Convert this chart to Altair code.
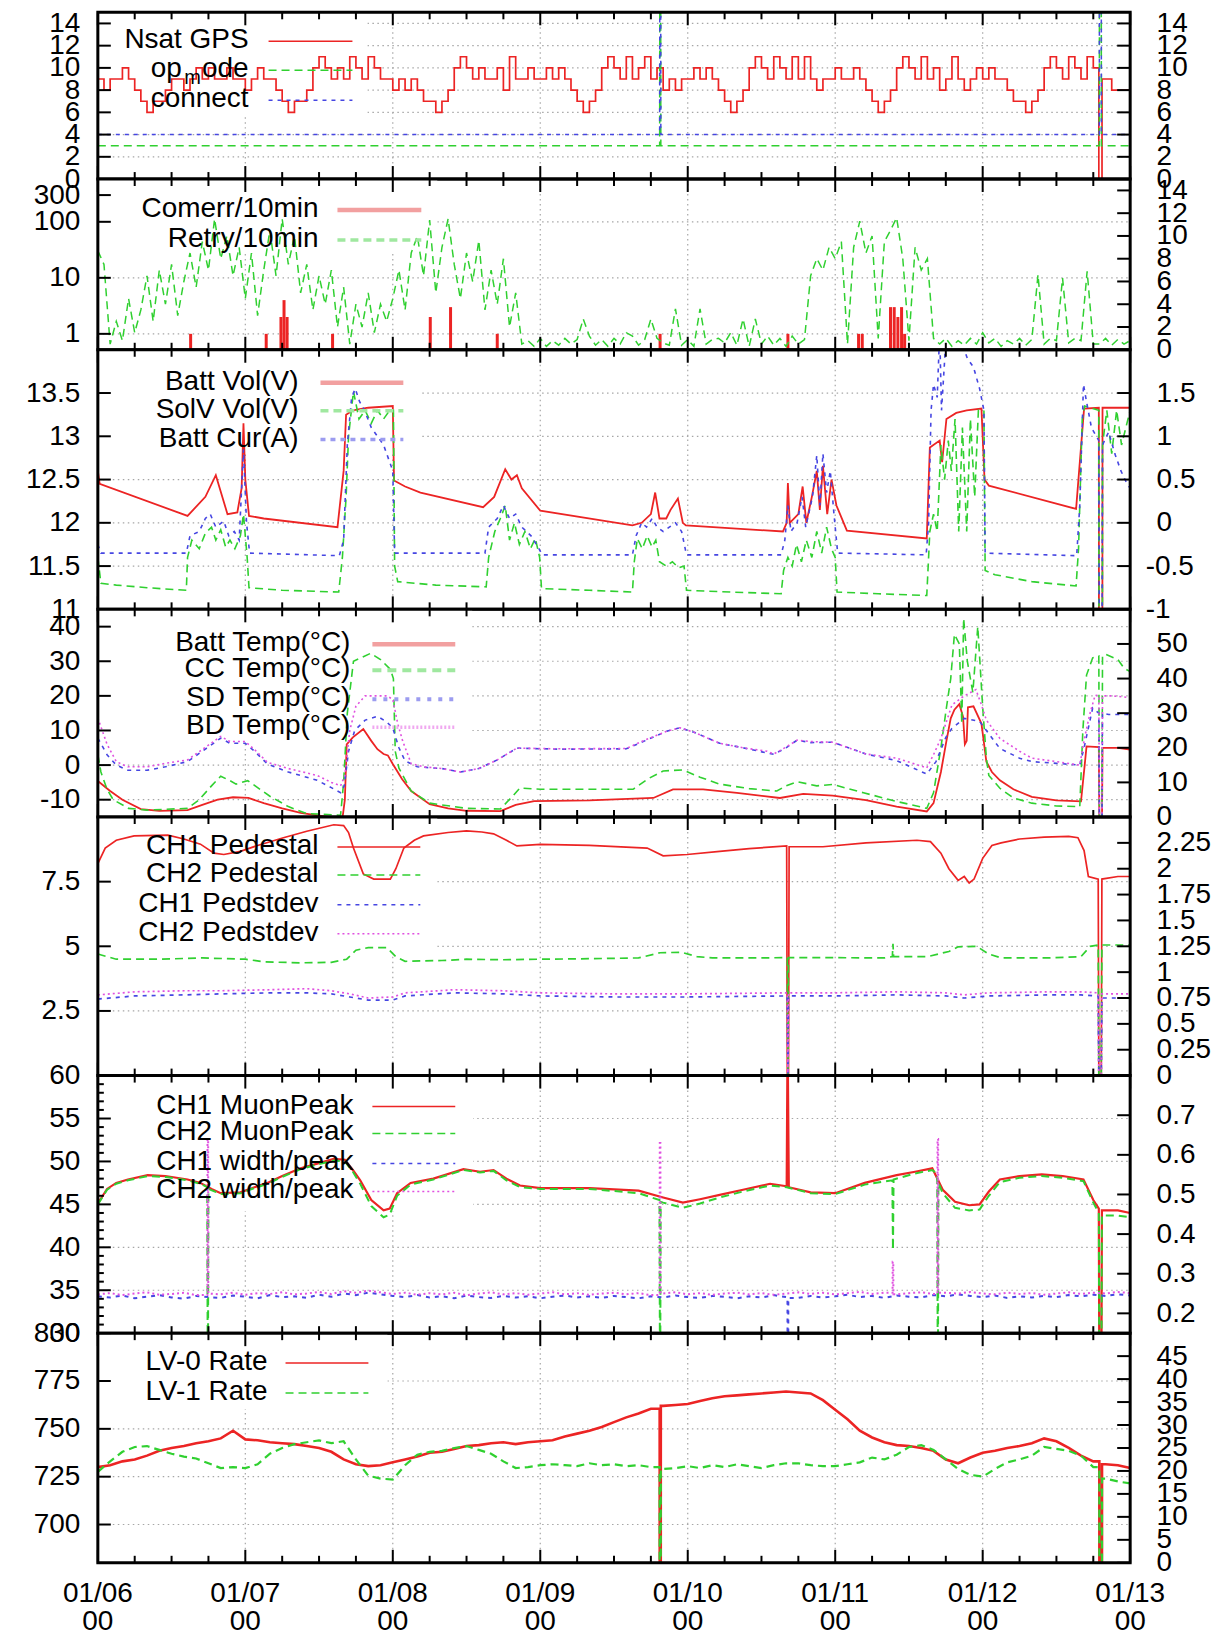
import altair as alt
import pandas as pd

# ---------------------------------------------------------------- style
W = 1034
FONT = "Liberation Sans"
FS = 28
RED, GREEN, BLUE, MAGENTA = "#ec2424", "#30d030", "#4646e2", "#e050e0"
RED_L, GREEN_L, BLUE_L, MAGENTA_L = "#f2a0a0", "#a0e8a0", "#9c9cf0", "#f0a8f0"
GRID = "#a6a6a6"
DASH, SHORT, DOT = [8, 5], [4, 5], [2, 3]

# ---------------------------------------------------------------- time axis (hours after 01/06 00:00)
DAY_HOURS = [0, 24, 48, 72, 96, 120, 144, 168]
DAY_LABELS = ["01/06", "01/07", "01/08", "01/09", "01/10", "01/11", "01/12", "01/13"]
HOUR_LABEL = "00"
MINOR_HOURS = [h for h in range(6, 168, 6) if h % 24]
HOURLY = list(range(0, 169))
TWO_HOURLY = list(range(0, 169, 2))

# ---------------------------------------------------------------- panel 1: GPS / mode
NSAT = ([9, 8, 9, 9, 10, 9, 8, 7, 6, 7, 7, 8, 9, 9, 8, 9, 10, 9, 10, 9, 9, 10, 9, 9]
        + [8, 9, 10, 9, 9, 8, 7, 6, 7, 7, 8, 10, 11, 10, 9, 10, 9, 11, 10, 9, 11, 10, 9, 9]
        + [8, 9, 8, 9, 8, 7, 7, 6, 7, 8, 10, 11, 10, 9, 10, 9, 9, 10, 8, 11, 9, 9, 10, 9]
        + [9, 10, 9, 10, 9, 8, 7, 6, 7, 8, 10, 11, 10, 9, 11, 9, 10, 11, 9, 10, 8, 9, 8, 9]
        + [9, 10, 9, 10, 9, 8, 7, 6, 7, 8, 10, 11, 10, 9, 11, 10, 9, 11, 9, 11, 9, 8, 9, 9]
        + [10, 9, 9, 10, 9, 8, 7, 6, 7, 8, 10, 11, 10, 9, 11, 9, 10, 8, 9, 11, 9, 8, 9, 10]
        + [9, 10, 9, 9, 8, 7, 7, 6, 7, 8, 10, 11, 10, 9, 11, 10, 9, 11, 10, 10, 9, 8, 8, 8, 8])
NSAT_SPIKES = [(162.9, 163.4, 0)]
OPMODE_T, OPMODE_V = [0, 168], [3, 3]
CONNECT_T, CONNECT_V = [0, 168], [4, 4]
MODE_SPIKES = [(91.45, 91.6, 20), (163.0, 163.3, 20)]

# ---------------------------------------------------------------- panel 2: communication errors
COMERR_T = [15.1, 27.4, 29.8, 30.3, 30.8, 38.2, 54.1, 57.4, 65.0, 91.5, 112.3,
            123.8, 124.4, 129.0, 129.6, 130.2, 130.8, 131.3]
COMERR_V = [1, 1, 2, 4, 2, 1, 2, 3, 1, 1, 1, 1, 1, 3, 3, 2, 3, 1]
RETRY = ([8.7, 7.5, 0.5, 2.5, 0.8, 4.5, 1.5, 3.5, 6.5, 2.5, 7.0, 4.0, 7.5, 3.0, 6.0, 8.5, 5.5, 9.5, 7.0, 11.5, 8.0, 10.0, 6.5, 9.0]
         + [4.5, 8.5, 3.0, 7.0, 10.5, 6.5, 11.5, 7.5, 10.0, 5.0, 7.5, 3.5, 6.5, 4.0, 7.0, 2.0, 5.5, 0.5, 4.0, 2.0, 5.0, 1.5, 4.0, 2.5]
         + [4.5, 7.0, 3.5, 8.5, 10.0, 6.5, 11.4, 5.0, 9.0, 11.5, 7.5, 4.5, 8.5, 6.0, 9.6, 3.5, 7.0, 4.0, 8.0, 2.0, 5.0, 0.5, 0.8, 0.3]
         + [1.0, 0.3, 0.8, 0.4, 1.0, 0.5, 0.9, 2.7, 1.2, 0.4, 0.9, 0.3, 1.0, 0.5, 1.5, 1.2, 0.4, 0.9, 2.7, 1.0, 0.6, 0.4, 3.6, 0.4]
         + [0.9, 0.3, 3.6, 0.5, 0.9, 1.0, 0.6, 1.5, 0.4, 2.7, 0.3, 2.7, 0.5, 1.2, 0.4, 1.0, 0.3, 1.2, 0.5, 0.9, 6.5, 8.0, 7.0, 9.0]
         + [8.0, 9.5, 0.5, 9.0, 11.3, 8.5, 10.0, 1.0, 9.5, 10.5, 11.6, 8.0, 0.8, 9.0, 7.0, 8.0, 1.0, 0.5, 1.0, 0.3, 0.8, 0.4, 1.0, 0.5]
         + [1.5, 0.6, 1.0, 0.3, 0.8, 0.5, 1.0, 0.4, 0.9, 6.6, 0.5, 1.0, 0.8, 6.3, 0.6, 1.0, 0.8, 6.9, 0.5, 0.5, 1.0, 0.4, 0.9, 0.5, 0.8])

# ---------------------------------------------------------------- panel 3: power (V on left, A on right)
BATT_VOL = [(0, 12.6), (0.3, 12.45), (14.6, 12.08), (17.5, 12.3), (19.2, 12.55), (21.1, 12.1), (22.7, 12.12),
            (23.4, 12.4), (23.7, 13.15), (24.0, 12.5), (24.6, 12.08), (27, 12.05), (39, 11.95), (40.0, 12.6),
            (40.4, 13.25), (41.5, 13.3), (44, 13.33), (48.0, 13.35), (48.2, 12.49), (50, 12.42), (52.5, 12.35),
            (62.7, 12.18), (64.5, 12.3), (66.3, 12.62), (67.3, 12.5), (68.2, 12.55), (69, 12.4), (72, 12.14),
            (87, 11.97), (88.5, 12.0), (90.0, 12.1), (90.7, 12.35), (91.4, 12.05), (92.5, 12.05), (93.2, 12.15),
            (94.4, 12.28), (95.2, 12.0), (95.7, 11.97), (111.5, 11.9), (112.1, 12.0), (112.3, 12.46), (112.6, 12.0),
            (114.0, 12.1), (114.7, 12.42), (115.3, 12.0), (116.2, 12.3), (117, 12.6), (117.5, 12.15), (118, 12.66),
            (118.7, 12.1), (119.4, 12.5), (120.2, 12.2), (121.9, 11.91), (134.9, 11.82), (135.4, 12.87),
            (137, 12.95), (137.4, 12.7), (138.1, 13.2), (139.7, 13.27), (141.4, 13.3), (143.8, 13.32),
            (144.3, 12.5), (145, 12.43), (159.2, 12.16), (160.5, 13.32), (162.9, 13.33), (163.0, 0), (163.4, 0),
            (163.5, 13.33), (168, 13.33)]
SOLV_VOL = [(0, 11.6), (0.5, 11.3), (3, 11.28), (8, 11.25), (14.4, 11.22), (14.6, 11.6), (15.3, 11.8), (16.5, 11.7),
            (17.5, 11.88), (18.5, 11.95), (19.2, 11.8), (20, 11.92), (20.8, 11.72), (21.5, 11.8), (22.3, 11.7),
            (23.2, 11.85), (23.7, 12.1), (24.3, 11.6), (24.6, 11.25), (30, 11.22), (39.2, 11.2), (39.8, 11.6),
            (40.4, 12.3), (40.8, 13.0), (41.6, 13.52), (42.5, 13.2), (43.5, 13.3), (44.5, 13.15), (45.5, 13.3),
            (46.5, 13.2), (47.5, 13.3), (48.1, 13.3), (48.3, 11.5), (48.8, 11.32), (55, 11.28), (63.2, 11.26),
            (63.6, 11.6), (64.6, 11.9), (65.5, 12.05), (66.3, 12.2), (67, 11.8), (67.8, 12.0), (68.6, 11.75),
            (69.5, 11.9), (70.4, 11.7), (71.2, 11.82), (71.9, 11.6), (72.2, 11.24), (80, 11.22), (87.0, 11.2),
            (87.3, 11.55), (87.8, 11.82), (88.6, 11.7), (89.4, 11.85), (90.2, 11.72), (90.8, 11.8), (91.4, 11.55),
            (92.5, 11.5), (93.5, 11.55), (94.5, 11.48), (95.4, 11.5), (95.8, 11.22), (103, 11.2), (111.2, 11.18),
            (111.6, 11.45), (112.3, 11.6), (113.0, 11.5), (113.7, 11.75), (114.5, 11.55), (115.3, 11.8),
            (116.2, 11.6), (117, 11.9), (117.8, 11.65), (118.6, 11.95), (119.4, 11.7), (120.0, 11.6),
            (120.3, 11.2), (127, 11.18), (134.9, 11.16), (135.4, 11.9), (136, 12.1), (136.6, 11.9), (137.2, 12.9),
            (137.8, 12.5), (138.4, 12.95), (138.9, 12.6), (139.5, 13.2), (140.1, 11.9), (140.7, 13.1),
            (141.4, 11.9), (142.0, 13.2), (142.7, 12.3), (143.3, 13.3), (144.2, 13.3), (144.4, 11.45),
            (146, 11.4), (152, 11.32), (159.2, 11.27), (159.6, 11.7), (160.2, 13.2), (160.6, 13.35),
            (162.9, 13.3), (163.0, 0), (163.4, 0), (163.5, 12.9), (164.2, 13.3), (165, 12.8), (165.8, 13.3),
            (166.6, 12.9), (168, 13.3)]
BATT_CUR = [(0, -0.25), (0.5, -0.35), (14.4, -0.35), (15, -0.15), (16.5, -0.1), (17.5, 0.05), (18.3, 0.1),
            (19.2, -0.05), (20.5, 0.02), (21.3, -0.15), (22.2, -0.1), (23.0, -0.2), (23.7, 0.85), (24.2, 0.0),
            (24.7, -0.35), (39.3, -0.38), (40, -0.2), (40.6, 0.9), (41.3, 1.45), (41.9, 1.55), (42.6, 1.4),
            (43.4, 1.3), (44.5, 1.1), (45.5, 1.0), (46.5, 0.9), (47.5, 0.7), (48.0, 0.6), (48.3, -0.35),
            (63.0, -0.35), (63.6, -0.05), (65.0, 0.05), (66.0, 0.2), (67.0, 0.05), (68.0, 0.1), (69.0, -0.05),
            (70.5, -0.15), (71.8, -0.3), (72.3, -0.37), (87.0, -0.37), (87.6, -0.15), (88.5, 0.0), (89.3, -0.05),
            (90.2, 0.05), (91.0, -0.05), (92.0, -0.1), (93.0, -0.05), (94.0, 0.0), (95.0, -0.1), (95.8, -0.37),
            (111.2, -0.37), (111.8, -0.2), (112.3, 0.2), (112.8, -0.1), (113.8, 0.0), (114.6, 0.3),
            (115.2, -0.05), (116.3, 0.3), (117.0, 0.78), (117.5, 0.2), (118.0, 0.8), (118.6, 0.35), (119.2, 0.6),
            (119.8, 0.1), (120.4, -0.35), (134.8, -0.37), (135.2, 0.0), (135.6, 1.3), (136.0, 1.6),
            (136.6, 1.45), (137.0, 2.2), (137.3, 1.3), (138.0, 2.1), (139.5, 2.2), (140.5, 2.1), (141.5, 1.9),
            (142.5, 1.8), (143.5, 1.55), (144.2, 1.3), (144.4, -0.35), (159.3, -0.38), (159.8, 0.2),
            (160.4, 1.6), (160.9, 1.4), (161.7, 1.1), (162.5, 1.0), (162.9, 0.95), (163.0, -2), (163.4, -2),
            (163.5, 0.9), (164.5, 1.05), (165.5, 0.8), (166.5, 0.6), (167.5, 0.45), (168, 0.4)]

# ---------------------------------------------------------------- panel 4: temperatures (degC)
BATT_TEMP = [(0, -4.6), (2, -7.5), (4, -10), (7, -12.7), (10, -13.2), (14.6, -13), (17, -11.5), (19.5, -10),
             (22, -9.3), (24.5, -9.5), (27, -11), (30, -12.5), (33, -13.8), (35.7, -14.5), (39.8, -15.5),
             (40.2, -10), (40.5, 6), (41.5, 8), (43.2, 10.4), (44.5, 7), (45.5, 4.6), (46.5, 3.2), (47.2, 2.8),
             (48, 0.3), (49.5, -4), (51, -7.5), (54, -11.3), (57, -12.5), (60, -13.2), (65.5, -13.3),
             (68, -11.5), (71, -10.4), (80, -10.2), (90.4, -9.5), (93.6, -7), (98.5, -7), (104, -8), (111, -9.5),
             (114.8, -8.3), (119.6, -8.8), (125, -10.1), (130, -12), (134.9, -13.4), (136, -11), (137.2, -2),
             (138.1, 7), (138.8, 13.5), (139.4, 16), (140.2, 17.6), (140.8, 14), (141.1, 6), (141.4, 7),
             (141.6, 16.7), (142.5, 17), (143.8, 12), (144.6, 1), (145.5, -2), (146.8, -4.4), (149, -7),
             (152, -9.2), (156, -10.2), (160, -10.5), (160.6, 0), (160.9, 5.4), (162.9, 5.2), (163.0, -20),
             (163.4, -20), (163.5, 5), (166, 5), (168, 4.5)]
CC_TEMP = [(0, 3), (0.5, -2), (1.5, -7), (2.5, -10), (5, -12.5), (8, -13), (14.6, -12.5), (16.5, -10), (18.5, -6),
           (20, -3.2), (21.5, -4.5), (22.5, -5.5), (24.4, -4.5), (26, -6.5), (28, -9), (31, -12), (34, -14),
           (39.5, -14.5), (40.0, -5), (40.6, 15), (41.6, 30), (44.4, 32.3), (46, 30.5), (47.6, 27.7), (48.1, 25),
           (48.4, 4), (49, -0.9), (51, -7.5), (54, -11), (60, -12.5), (65.5, -12.7), (67.5, -9), (68.7, -6.6),
           (72, -7), (87.1, -7), (89.5, -4), (92, -1.7), (95.2, -1.4), (98, -3.5), (101.2, -5.5), (106, -6.8),
           (110.5, -7.5), (112, -6), (113.8, -4.8), (117, -6), (119.6, -5.6), (124.6, -8), (130, -10.5),
           (134.9, -12.5), (136, -8), (137.2, 5), (138.1, 16.6), (138.8, 25), (139.4, 37.8), (140.2, 35),
           (140.6, 12), (140.9, 42.4), (141.5, 30), (142.4, 21), (143.2, 40), (144, 16.7), (144.6, 2), (145, -3),
           (146.8, -6.7), (149, -9.5), (152, -11), (156, -11.8), (159.8, -12), (160.3, 10), (160.9, 26),
           (161.9, 31), (162.9, 31.5), (163.0, -20), (163.4, -20), (163.5, 31.5), (164, 32), (166, 30.5),
           (167, 28), (168, 27)]
SD_TEMP = [(0, 7.8), (1.5, 3), (3, 0), (4.9, -1.5), (8, -1.5), (11, -0.5), (14.6, 1), (17, 4), (20, 7.8),
           (21.5, 6.3), (24, 6.3), (25.5, 4), (27.6, 0.3), (31, -2), (35.7, -4.4), (38, -6.5), (39.5, -8),
           (40.1, -6), (40.8, 4), (41.8, 10), (43.5, 13), (45.5, 14.1), (47, 12.5), (48, 10.7), (49, 5),
           (50, 1.2), (52, -0.5), (56, -1), (59, -2), (62, -1), (65, 1.5), (68.2, 4.9), (75, 4.6), (86, 4.7),
           (89, 7), (92.6, 9.8), (94.7, 10.8), (97, 9.5), (101.2, 6.3), (105, 5), (108.9, 3.5), (110, 3.1),
           (112, 5), (113.8, 7.2), (116, 6.5), (119.6, 6.6), (125, 3.2), (130, 1.3), (134.9, -2.6), (136.4, 1),
           (138, 8), (139, 10.6), (141, 13.5), (143.5, 12.6), (144.6, 10), (146.8, 4.8), (150, 2), (152, 1),
           (156, 0.5), (159.8, 0), (160.5, 5), (161.9, 16.5), (162.9, 15), (163.0, -20), (163.4, -20),
           (163.5, 15), (164.5, 14.6), (168, 14.6)]
BD_TEMP = [(0, 13.6), (1.5, 6), (3, 1), (4.9, -0.5), (8, -0.5), (11, 0.5), (14.6, 1.5), (17, 4.5), (20, 8.3),
           (21.5, 6.8), (24, 6.8), (25.5, 4.5), (27.6, 0.8), (31, -1), (35.7, -3), (38, -5), (39.5, -6),
           (40.2, -3), (41, 10), (42, 17), (43.5, 20), (47, 20), (48, 19), (48.8, 12), (49.6, 7), (51, 0.4),
           (53, -0.5), (56, -1), (59, -2), (62, -1), (65, 1.5), (68.2, 4.9), (75, 4.7), (86, 4.8), (89, 7.2),
           (92.6, 9.8), (94.7, 10.8), (97, 9.5), (101.2, 6.3), (105, 5), (108.9, 4), (110, 3.2), (112, 5.2),
           (113.8, 7.2), (116, 6.8), (119.6, 6.6), (125, 3.2), (130, 2), (134.9, -0.8), (136, 3), (137.2, 7.7),
           (139, 17.4), (141, 20), (142.9, 21.8), (143.8, 17.4), (144.6, 13), (146.8, 7.7), (150, 4), (152, 2),
           (156, 1), (159.8, 0), (160.6, 8), (161.4, 14.5), (162.3, 20.2), (162.9, 20), (163.0, -20),
           (163.4, -20), (163.5, 20), (165, 20), (168, 19.5)]

# ---------------------------------------------------------------- panel 5: pedestals
CH1_PED = [(0, 8.2), (1.2, 8.8), (3, 9.1), (5.9, 9.27), (11.4, 9.3), (14, 9.15), (16.7, 8.95), (18.9, 8.6),
           (20.5, 8.55), (23.2, 8.67), (26, 8.9), (30.2, 9.2), (34, 9.45), (38.4, 9.7), (40, 9.67), (40.8, 9.4),
           (41.6, 8.8), (43.2, 7.8), (44.9, 7.6), (47.6, 7.6), (48.5, 8.0), (49.8, 8.8), (51.5, 9.1), (53, 9.27),
           (57, 9.4), (60, 9.46), (62.5, 9.42), (64.4, 9.35), (66.5, 9.1), (68.2, 8.88), (72, 8.94), (80, 8.9),
           (89.4, 8.8), (92, 8.5), (95.9, 8.55), (101.2, 8.67), (106, 8.78), (112.1, 8.88), (112.2, 0),
           (112.4, 0), (112.5, 8.85), (118, 8.85), (125, 9.0), (133.3, 9.1), (135.5, 9.05), (137.2, 8.6),
           (138.5, 8.0), (140, 7.55), (141, 7.7), (141.8, 7.45), (142.6, 7.6), (144, 8.4), (145.5, 8.9),
           (147, 9.0), (150, 9.15), (154, 9.22), (158, 9.25), (159.5, 9.2), (160.5, 8.7), (161.2, 7.7),
           (162.8, 7.6), (162.9, 0), (163.3, 0), (163.4, 7.6), (166, 7.7), (168, 7.7)]
CH2_PED = [(0, 4.7), (3, 4.5), (10, 4.5), (17, 4.55), (24, 4.5), (27, 4.4), (33, 4.36), (38, 4.38), (40.5, 4.5),
           (42, 4.85), (44, 4.95), (47, 4.95), (48.5, 4.6), (50, 4.42), (56, 4.45), (60, 4.5), (66, 4.48),
           (72, 4.5), (80, 4.52), (88, 4.55), (91.5, 4.75), (95, 4.77), (97.5, 4.6), (100, 4.55), (106, 4.55),
           (112.2, 4.56), (112.3, 0), (112.4, 4.56), (120, 4.56), (128, 4.55), (129.3, 4.6), (129.4, 5.1),
           (129.5, 4.6), (135, 4.6), (138.5, 4.8), (140, 4.98), (143, 5.0), (145, 4.7), (147, 4.55),
           (155, 4.55), (160, 4.6), (161.5, 5.0), (162.8, 5.05), (162.9, 0), (163.3, 0), (163.4, 5.05),
           (168, 5.05)]
CH1_PEDSTD = [(0, 0.74), (6, 0.77), (14, 0.78), (20, 0.79), (28, 0.8), (34, 0.8), (38, 0.79), (41, 0.76),
              (44, 0.73), (48, 0.73), (50, 0.77), (58, 0.8), (66, 0.79), (72, 0.77), (84, 0.76), (96, 0.76),
              (112.2, 0.77), (112.3, 0), (112.4, 0.77), (120, 0.77), (130, 0.78), (138, 0.77), (141, 0.75),
              (145, 0.77), (155, 0.78), (160, 0.78), (162.8, 0.77), (162.9, 0), (163.3, 0), (163.4, 0.75),
              (168, 0.75)]
CH2_PEDSTD = [(0, 0.78), (6, 0.81), (14, 0.82), (20, 0.82), (28, 0.83), (34, 0.84), (38, 0.82), (41, 0.79),
              (44, 0.75), (48, 0.76), (50, 0.8), (58, 0.83), (66, 0.82), (72, 0.8), (84, 0.79), (96, 0.79),
              (112.2, 0.8), (112.3, 0), (112.4, 0.8), (120, 0.8), (130, 0.81), (138, 0.8), (141, 0.78),
              (145, 0.8), (155, 0.81), (160, 0.81), (162.8, 0.8), (162.9, 0), (163.3, 0), (163.4, 0.79),
              (168, 0.79)]

# ---------------------------------------------------------------- panel 6: muon peaks
CH1_MUON = [(0, 45.1), (1.5, 46.8), (3, 47.5), (4.9, 47.9), (8.1, 48.4), (11, 48.3), (14.6, 47.9), (16.7, 47.5),
            (18.5, 46.8), (20, 46.3), (23.2, 46.4), (25.5, 47), (27.6, 47.5), (30, 48.3), (33, 49.2), (36, 49.8),
            (38.4, 50.3), (40.2, 50.2), (41.5, 49), (42.7, 47.8), (44.5, 45.5), (46.5, 44.3), (47.5, 44.5),
            (48.7, 46.3), (50.9, 47.5), (54.6, 48), (59.5, 49.1), (62.2, 48.8), (64.4, 49), (66.5, 48),
            (68.7, 47.2), (72, 46.9), (80, 46.9), (88, 46.6), (92, 45.8), (95.2, 45.2), (98, 45.6), (101.2, 46.1),
            (105, 46.7), (109.4, 47.4), (112.1, 47.1), (112.25, 65), (112.45, 47), (116, 46.4), (120, 46.3),
            (124.8, 47.5), (130, 48.4), (133, 48.8), (135.8, 49.2), (137.5, 46.7), (139.5, 45.3), (141.8, 44.9),
            (143.5, 45), (145, 46.5), (146.8, 47.9), (150, 48.3), (153.6, 48.5), (157, 48.3), (160.4, 47.9),
            (162, 45.5), (162.9, 44.5), (163.0, 20), (163.3, 20), (163.4, 44.3), (166, 44.3), (168, 44)]
CH2_MUON = [(0, 45), (1.5, 46.7), (3, 47.4), (4.9, 47.8), (8.1, 48.3), (11, 48.2), (14.6, 47.8), (16.7, 47.4),
            (17.8, 47.0), (17.9, 20), (18.0, 46.8), (20, 46.2), (23.2, 46.3), (25.5, 46.9), (27.6, 47.4),
            (30, 48.2), (33, 49.1), (36, 49.7), (38.4, 50.1), (40.2, 50.0), (41.5, 48.8), (42.7, 47.4),
            (44.5, 44.8), (46.5, 43.5), (47.5, 43.8), (48.7, 46.0), (50.9, 47.3), (54.6, 47.9), (59.5, 49.0),
            (62.2, 48.7), (64.4, 48.9), (66.5, 47.8), (68.7, 47.0), (72, 46.8), (80, 46.8), (88, 46.3),
            (91.4, 45.5), (91.5, 20), (91.6, 45.3), (92, 45.2), (95.2, 44.6), (98, 45.1), (101.2, 45.8),
            (105, 46.5), (109.4, 47.2), (112.1, 47.0), (116, 46.3), (120, 46.2), (124.8, 47.3), (129.3, 47.8),
            (129.4, 39.7), (129.5, 47.9), (133, 48.6), (135.8, 49.0), (136.6, 48.5), (136.7, 20), (136.8, 47.5),
            (137.5, 46.3), (139.5, 44.6), (141.8, 44.3), (143.5, 44.4), (145, 46.0), (146.8, 47.6), (150, 48.1),
            (153.6, 48.3), (157, 48.1), (160.4, 47.7), (162, 45.2), (162.9, 44.0), (163.0, 20), (163.3, 20),
            (163.4, 43.7), (166, 43.7), (168, 43.5)]
CH1_WP = [0.243, 0.240, 0.245, 0.238, 0.242, 0.246, 0.240, 0.237, 0.244, 0.241, 0.239, 0.245,
          0.242, 0.238, 0.246, 0.241, 0.243, 0.239, 0.247, 0.242, 0.250, 0.246, 0.252, 0.248,
          0.244, 0.241, 0.246, 0.240, 0.243, 0.238, 0.245, 0.241, 0.239, 0.244, 0.240, 0.243,
          0.238, 0.242, 0.245, 0.240, 0.243, 0.239, 0.244, 0.241, 0.238, 0.243, 0.240, 0.245,
          0.241, 0.239, 0.244, 0.242, 0.238, 0.243, 0.240, 0.246, 0.241, 0.239, 0.244, 0.240,
          0.243, 0.247, 0.241, 0.244, 0.239, 0.245, 0.242, 0.240, 0.246, 0.243, 0.248, 0.244,
          0.241, 0.245, 0.239, 0.243, 0.240, 0.244, 0.241, 0.246, 0.243, 0.247, 0.244, 0.248, 0.245]
CH2_WP = [0.248, 0.251, 0.246, 0.250, 0.253, 0.247, 0.249, 0.252, 0.246, 0.250, 0.248, 0.252,
          0.247, 0.251, 0.249, 0.253, 0.248, 0.250, 0.254, 0.249, 0.256, 0.252, 0.257, 0.253,
          0.249, 0.252, 0.247, 0.251, 0.248, 0.252, 0.246, 0.250, 0.253, 0.248, 0.251, 0.247,
          0.250, 0.253, 0.248, 0.251, 0.247, 0.250, 0.252, 0.248, 0.251, 0.246, 0.250, 0.253,
          0.248, 0.251, 0.247, 0.250, 0.252, 0.248, 0.251, 0.247, 0.250, 0.253, 0.249, 0.252,
          0.248, 0.251, 0.254, 0.249, 0.252, 0.248, 0.251, 0.253, 0.249, 0.252, 0.250, 0.254,
          0.250, 0.248, 0.252, 0.249, 0.251, 0.247, 0.250, 0.253, 0.249, 0.252, 0.250, 0.254, 0.251]
CH1_WP_SPIKES = [(112.25, 112.35, 0.0)]
CH2_WP_SPIKES = [(17.85, 17.95, 0.64), (91.45, 91.55, 0.63), (129.35, 129.45, 0.33), (136.65, 136.75, 0.64)]

# ---------------------------------------------------------------- panel 7: trigger rates
LV0 = [730, 731, 733, 734, 736, 738.5, 740, 741, 742.5, 743.5,
       745, 749, 744.5, 744, 743, 742.5, 742, 741, 740, 738,
       734, 731.5, 730.5, 731, 732.5, 734, 735.5, 737.5, 738, 739.5,
       741, 741.5, 742.5, 743, 742, 743, 743.5, 744, 746, 747.5,
       749, 751, 753.5, 756, 758, 760.5, 762, 762.5, 763, 764.5,
       766, 767, 767.5, 768, 768.5, 769, 769.5, 769, 768.5, 765,
       760, 755, 749, 745.5, 743, 741.5, 741, 740, 738.5, 734,
       732, 735, 737.5, 738.5, 740, 741, 742.5, 745, 743.5, 740,
       736, 733, 731.5, 731, 729.5]
LV1 = [727.5, 733, 738, 740.5, 741, 739, 737, 735.5, 734.5, 732,
       729.5, 730, 729.5, 731.5, 737, 740, 742, 743, 744, 742.5,
       743.5, 734, 725.5, 724, 723.5, 731, 736.5, 738, 738.5, 740,
       741, 739, 737, 733, 729.5, 730, 731, 731.5, 731, 730.5,
       732, 731, 731.5, 730.5, 731, 730, 729, 729.5, 730.5, 729.5,
       731, 730, 731.5, 730.5, 729.5, 731, 732, 732, 731, 730.5,
       730.5, 731.5, 732.5, 735, 734, 736.5, 740.5, 741.5, 739, 734,
       729, 726, 725, 729, 732.5, 734, 736, 740.5, 739.5, 738.5,
       736, 730, 724, 722.5, 721.5]
RATE_SPIKES = [(91.45, 91.6, 600), (163.0, 163.4, 600)]

# ---------------------------------------------------------------- helpers
ONE = pd.DataFrame({"k": [0]})
X = alt.X("t:Q", scale=alt.Scale(domain=[0, 168], nice=False, zero=False), axis=None)


def ys(domain, kind="linear"):
    return alt.Scale(domain=domain, type=kind, nice=False, zero=False)


def pts(pairs):
    return pd.DataFrame(pairs, columns=["t", "v"])


def spiked(t, v, spikes=()):
    """Series with short dropouts/spikes inserted at the given times."""
    p = list(zip(t, v))
    for t0, t1, level in spikes:
        before = [q for q in p if q[0] < t0][-1][1]
        after = [q for q in p if q[0] > t1][0][1]
        p = [q for q in p if not (t0 <= q[0] <= t1)]
        p += [(t0 - 0.02, before), (t0, level), (t1, level), (t1 + 0.02, after)]
        p.sort()
    return pts(p)


def line(df, domain, color, dash=None, width=1.5, kind="linear", interp="linear"):
    mk = dict(color=color, strokeWidth=width, clip=True, interpolate=interp)
    if dash:
        mk["strokeDash"] = dash
    return alt.Chart(df).mark_line(**mk).encode(
        x=X, y=alt.Y("v:Q", scale=ys(domain, kind), axis=None))


def side_axis(orient, values, pad):
    return alt.Axis(orient=orient, values=values, labelExpr="toString(datum.value)",
                    ticks=False, domain=False, grid=False, title=None,
                    labelFont=FONT, labelFontSize=FS, labelColor="black",
                    labelPadding=pad, labelOverlap=False, labelFlush=False,
                    labelAlign="right" if orient == "left" else "left", labelBaseline="middle")


# negative labels on the right-hand axes start a little further left
RIGHT_PAD = {"condition": {"test": "datum.value < 0", "value": 15}, "value": 26}


def vals(values):
    return pd.DataFrame({"v": values})


def text(s, x, y, align="right", size=FS):
    return alt.Chart(ONE).mark_text(text=s, align=align, baseline="middle", font=FONT,
                                    fontSize=size, color="black").encode(x=alt.value(x), y=alt.value(y))


def panel(h, left, right, series, legend, extra=()):
    lkind = left.get("kind", "linear")
    gridmk = dict(color=GRID, strokeDash=[1.5, 3.5], strokeWidth=1.2)
    tick = dict(color="black", strokeWidth=2)
    layers = [
        alt.Chart(pd.DataFrame({"t": DAY_HOURS[1:-1]})).mark_rule(**gridmk).encode(
            x=X, y=alt.value(0), y2=alt.value(h)),
        alt.Chart(vals(left["grid"])).mark_rule(**gridmk).encode(
            x=alt.value(0), x2=alt.value(W),
            y=alt.Y("v:Q", scale=ys(left["domain"], lkind), axis=side_axis("left", left["labels"], 18))),
    ]
    box_r, box_b = legend["box"]
    layers.append(alt.Chart(ONE).mark_rect(color="white").encode(
        x=alt.value(0), x2=alt.value(box_r), y=alt.value(0), y2=alt.value(box_b)))
    layers += series
    layers.append(alt.Chart(vals(left["labels"])).mark_rule(**tick).encode(
        x=alt.value(0), x2=alt.value(13), y=alt.Y("v:Q", scale=ys(left["domain"], lkind), axis=None)))
    if "minor" in left:
        layers.append(alt.Chart(vals(left["minor"])).mark_rule(**tick).encode(
            x=alt.value(0), x2=alt.value(6), y=alt.Y("v:Q", scale=ys(left["domain"], lkind), axis=None)))
    layers.append(alt.Chart(vals(right["labels"])).mark_rule(**tick).encode(
        x=alt.value(W - 13), x2=alt.value(W),
        y=alt.Y("v:Q", scale=ys(right["domain"]), axis=side_axis("right", right["labels"], RIGHT_PAD))))
    for hrs, ln in ((DAY_HOURS, 13), (MINOR_HOURS, 7)):
        d = pd.DataFrame({"t": hrs})
        layers.append(alt.Chart(d).mark_rule(**tick).encode(x=X, y=alt.value(0), y2=alt.value(ln)))
        layers.append(alt.Chart(d).mark_rule(**tick).encode(x=X, y=alt.value(h - ln), y2=alt.value(h)))
    layers.append(alt.Chart(ONE).mark_rect(fill="white", fillOpacity=0, stroke="black", strokeWidth=3).encode(
        x=alt.value(0), x2=alt.value(W), y=alt.value(0), y2=alt.value(h)))
    tr = legend["text_right"]
    s0, s1 = legend["sample"]
    for label, y, color, dash, width in legend["rows"]:
        if label:
            layers.append(text(label, tr, y))
        mk = dict(color=color, strokeWidth=width)
        if dash:
            mk["strokeDash"] = dash
        layers.append(alt.Chart(ONE).mark_rule(**mk).encode(
            x=alt.value(s0), x2=alt.value(s1), y=alt.value(y + 1)))
    layers += list(extra)
    return alt.layer(*layers).resolve_scale(y="independent").properties(width=W, height=h)


# ---------------------------------------------------------------- panels
H1, H2, H3, H4, H5, H6, H7 = 167, 171, 260, 208, 259, 258, 230
EVEN14 = [0, 2, 4, 6, 8, 10, 12, 14]

p1 = panel(
    H1,
    dict(domain=[0, 15], labels=EVEN14, grid=EVEN14[1:]),
    dict(domain=[0, 15], labels=EVEN14),
    [line(spiked(HOURLY, NSAT, NSAT_SPIKES), [0, 15], RED, interp="step-after", width=1.7),
     line(spiked(OPMODE_T, OPMODE_V, MODE_SPIKES), [0, 15], GREEN, DASH),
     line(spiked(CONNECT_T, CONNECT_V, MODE_SPIKES), [0, 15], BLUE, SHORT)],
    dict(text_right=151, sample=(171, 255), box=(270, 102),
         rows=[("Nsat GPS", 28, RED, None, 1.5), (None, 57, GREEN, DASH, 1.5),
               ("connect", 87, BLUE, SHORT, 1.5)]),
    extra=[text("op", 84, 57), text("m", 95, 66, align="center", size=20), text("ode", 151, 57),
           alt.Chart(ONE).mark_rule(color="white", strokeWidth=1).encode(
               x=alt.value(-96.5), x2=alt.value(W + 97.5), y=alt.value(-9.5))],
)

p2 = panel(
    H2,
    dict(domain=[0.52, 580], kind="log", labels=[1, 10, 100, 300], grid=[1, 10, 100]),
    dict(domain=[0, 15], labels=EVEN14),
    [alt.Chart(pd.DataFrame({"t": COMERR_T, "v": COMERR_V})).mark_rule(color=RED, strokeWidth=3).encode(
        x=X, y=alt.Y("v:Q", scale=ys([0.52, 580], "log"), axis=None), y2=alt.value(H2)),
     line(pd.DataFrame({"t": HOURLY, "v": RETRY}), [0, 15], GREEN, DASH, 1.5)],
    dict(text_right=221, sample=(240, 324), box=(340, 75),
         rows=[("Comerr/10min", 30, RED_L, None, 4.5), ("Retry/10min", 60, GREEN_L, DASH, 3.5)]),
)

p3 = panel(
    H3,
    dict(domain=[11, 14], labels=[11, 11.5, 12, 12.5, 13, 13.5], grid=[11.5, 12, 12.5, 13, 13.5]),
    dict(domain=[-1, 2], labels=[-1, -0.5, 0, 0.5, 1, 1.5]),
    [line(pts(BATT_VOL), [11, 14], RED, None, 1.8),
     line(pts(SOLV_VOL), [11, 14], GREEN, DASH, 1.6),
     line(pts(BATT_CUR), [-1, 2], BLUE, SHORT, 1.6)],
    dict(text_right=201, sample=(223, 306), box=(323, 104),
         rows=[("Batt Vol(V)", 32, RED_L, None, 4.5), ("SolV Vol(V)", 60, GREEN_L, DASH, 3.5),
               ("Batt Cur(A)", 89, BLUE_L, [5, 5], 3.5)]),
)

p4 = panel(
    H4,
    dict(domain=[-15, 45], labels=[-10, 0, 10, 20, 30, 40], grid=[-10, 0, 10, 20, 30, 40]),
    dict(domain=[0, 60], labels=[0, 10, 20, 30, 40, 50]),
    [line(pts(BATT_TEMP), [-15, 45], RED, None, 1.8),
     line(pts(CC_TEMP), [-15, 45], GREEN, DASH, 1.6),
     line(pts(SD_TEMP), [-15, 45], BLUE, SHORT, 1.6),
     line(pts(BD_TEMP), [-15, 45], MAGENTA, DOT, 1.6)],
    dict(text_right=253, sample=(275, 358), box=(375, 134),
         rows=[("Batt Temp(°C)", 34, RED_L, None, 4.5), ("CC Temp(°C)", 60, GREEN_L, [9, 6], 4),
               ("SD Temp(°C)", 89, BLUE_L, [4, 7], 4), ("BD Temp(°C)", 117, MAGENTA_L, [2, 2], 3.5)]),
)

p5 = panel(
    H5,
    dict(domain=[0, 10], labels=[2.5, 5, 7.5], grid=[2.5, 5, 7.5]),
    dict(domain=[0, 2.5], labels=[0, 0.25, 0.5, 0.75, 1, 1.25, 1.5, 1.75, 2, 2.25]),
    [line(pts(CH1_PED), [0, 10], RED, None, 1.7),
     line(pts(CH2_PED), [0, 10], GREEN, DASH, 1.7),
     line(pts(CH1_PEDSTD), [0, 2.5], BLUE, SHORT, 1.7),
     line(pts(CH2_PEDSTD), [0, 2.5], MAGENTA, DOT, 1.7)],
    dict(text_right=221, sample=(240, 323), box=(340, 136),
         rows=[("CH1 Pedestal", 29, RED, None, 1.5), ("CH2 Pedestal", 57, GREEN, DASH, 1.5),
               ("CH1 Pedstdev", 87, BLUE, SHORT, 1.5), ("CH2 Pedstdev", 116, MAGENTA, DOT, 1.5)]),
)

p6 = panel(
    H6,
    dict(domain=[30, 60], labels=[30, 35, 40, 45, 50, 55, 60], grid=[35, 40, 45, 50, 55],
         minor=[m for m in range(31, 60) if m % 5]),
    dict(domain=[0.15, 0.8], labels=[0.2, 0.3, 0.4, 0.5, 0.6, 0.7]),
    [line(pts(CH1_MUON), [30, 60], RED, None, 2.2),
     line(pts(CH2_MUON), [30, 60], GREEN, DASH, 2.0),
     line(spiked(TWO_HOURLY, CH1_WP, CH1_WP_SPIKES), [0.15, 0.8], BLUE, SHORT, 2.0),
     line(spiked(TWO_HOURLY, CH2_WP, CH2_WP_SPIKES), [0.15, 0.8], MAGENTA, DOT, 2.0)],
    dict(text_right=256, sample=(275, 358), box=(376, 136),
         rows=[("CH1 MuonPeak", 30, RED, None, 1.5), ("CH2 MuonPeak", 57, GREEN, DASH, 1.5),
               ("CH1 width/peak", 87, BLUE, SHORT, 1.5), ("CH2 width/peak", 115, MAGENTA, DOT, 1.5)]),
)

date_df = pd.DataFrame({"t": DAY_HOURS, "date": DAY_LABELS, "hour": [HOUR_LABEL] * len(DAY_HOURS)})
p7 = panel(
    H7,
    dict(domain=[680, 800], labels=[700, 725, 750, 775, 800], grid=[700, 725, 750, 775]),
    dict(domain=[0, 50], labels=[0, 5, 10, 15, 20, 25, 30, 35, 40, 45]),
    [line(spiked(TWO_HOURLY, LV0, RATE_SPIKES), [680, 800], RED, None, 2.6),
     line(spiked(TWO_HOURLY, LV1, RATE_SPIKES), [680, 800], GREEN, DASH, 2.2)],
    dict(text_right=170, sample=(188, 271), box=(290, 76),
         rows=[("LV-0 Rate", 29, RED, None, 1.5), ("LV-1 Rate", 59, GREEN, DASH, 1.5)]),
    extra=[alt.Chart(date_df).mark_text(align="center", baseline="alphabetic", font=FONT, fontSize=FS,
                                        color="black").encode(x=X, y=alt.value(H7 + 39), text="date:N"),
           alt.Chart(date_df).mark_text(align="center", baseline="alphabetic", font=FONT, fontSize=FS,
                                        color="black").encode(x=X, y=alt.value(H7 + 67), text="hour:N")],
)

chart = alt.vconcat(p1, p2, p3, p4, p5, p6, p7, spacing=0, bounds="flush", padding=0).configure_view(
    stroke=None).configure(background="white")

chart.save("out.html", embed_options={"renderer": "svg", "actions": False})
